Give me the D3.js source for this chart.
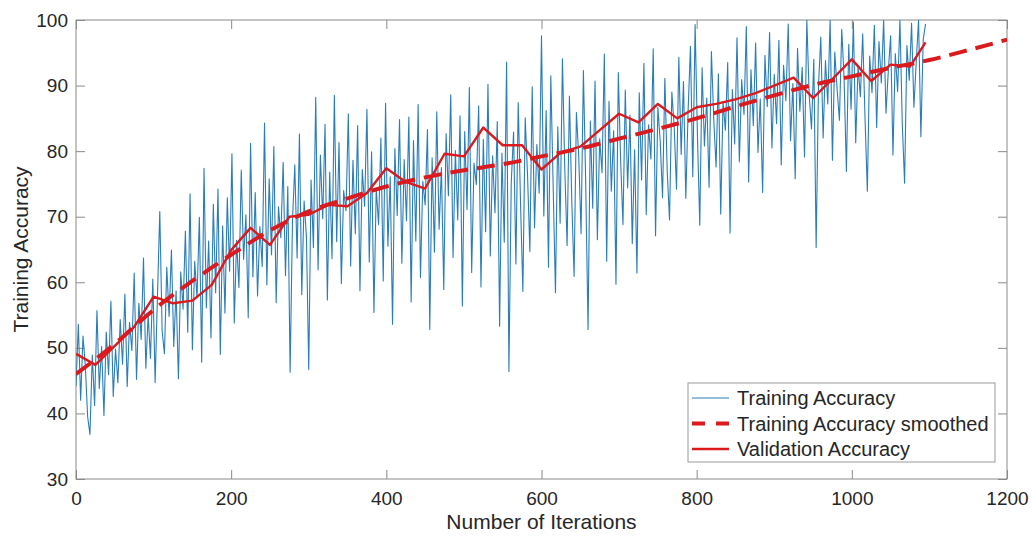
<!DOCTYPE html>
<html>
<head>
<meta charset="utf-8">
<script src="https://cdn.jsdelivr.net/npm/d3@7"></script>
<style>
  body { margin: 0; background: #fff; }
  svg { display: block; font-family: "Liberation Sans", Arial, sans-serif; }
  .tick text { fill: #262626; font-size: 19px; }
  .tick line { stroke: #8a8a8a; }
</style>
</head>
<body>
<div id="chart"></div>
<script>
// Training accuracy, one reading every 3 iterations (0 .. 1095)
const trainStep = 3;
const trainAcc = [
    44.1, 53.6, 42.0, 51.8, 47.3, 39.5, 36.8, 48.9, 41.2, 55.7, 43.8, 50.2, 39.7, 52.4, 45.9, 57.1, 42.6, 49.8, 44.7, 54.3,
    47.5, 58.2, 44.1, 53.9, 49.6, 61.4, 45.2, 56.8, 51.3, 63.7, 46.9, 55.0, 48.4, 60.5, 44.7, 57.9, 70.8, 52.6, 49.1, 62.3,
    54.8, 64.9, 50.2, 58.7, 45.3, 61.6, 55.9, 67.8, 52.4, 73.5, 49.7, 63.2, 57.6, 69.9, 47.8, 77.4, 56.1, 66.3, 51.5, 71.9,
    58.4, 74.2, 49.0, 68.6, 55.3, 72.9, 61.7, 79.6, 53.8, 66.4, 59.2, 77.1, 63.5, 70.3, 54.6, 81.2, 60.8, 73.7, 57.9, 68.5,
    62.4, 84.3, 59.6, 75.8, 64.2, 80.7, 56.9, 71.5, 66.8, 78.3, 61.0, 74.6, 46.3, 69.2, 77.9, 63.7, 82.6, 58.1, 72.4, 67.0,
    46.7, 75.6, 65.3, 88.2, 61.9, 79.4, 69.7, 84.1, 57.3, 76.8, 63.6, 88.5, 66.2, 81.3, 59.8, 74.0, 70.9, 85.7, 62.5, 78.6,
    67.4, 83.9, 58.7, 77.2, 71.6, 86.4, 63.1, 79.9, 55.4, 74.3, 68.8, 82.0, 60.2, 87.3, 65.5, 76.1, 53.6, 80.4, 70.2, 84.8,
    62.9, 78.7, 69.4, 85.2, 57.0, 81.6, 66.3, 87.1, 60.7, 75.4, 71.8, 83.3, 52.8, 79.0, 64.6, 86.0, 68.1, 77.5, 58.9, 82.7,
    73.2, 88.6, 63.8, 80.1, 69.5, 85.4, 56.4, 83.0, 71.1, 89.7, 61.5, 78.2, 74.9, 86.9, 59.3, 81.8, 67.7, 90.2, 64.0, 79.3,
    70.6, 84.5, 53.3, 79.7, 66.1, 93.6, 46.4, 75.2, 82.9, 62.8, 87.4, 71.9, 58.6, 85.1, 76.4, 64.7, 89.8, 68.3, 81.0, 73.6,
    97.6, 70.1, 86.2, 62.3, 91.5, 74.8, 58.4, 83.7, 69.0, 94.1, 77.3, 65.6, 88.4, 72.5, 60.9, 85.9, 79.2, 67.4, 92.3, 75.0,
    52.8, 84.6, 71.3, 90.7, 66.5, 81.9, 76.7, 94.8, 63.2, 87.6, 73.9, 83.1, 59.7, 92.0, 78.5, 68.8, 89.3, 74.4, 85.5, 65.9,
    80.2, 61.4, 88.9, 75.6, 93.4, 70.3, 84.0, 78.8, 95.6, 67.1, 86.7, 81.5, 72.9, 91.1, 77.0, 69.5, 89.0, 83.8, 74.2, 94.3,
    79.5, 90.6, 72.8, 86.3, 96.0, 76.1, 99.3, 82.4, 68.7, 92.7, 80.8, 88.1, 74.5, 95.2, 84.9, 77.6, 91.8, 70.4, 87.5, 83.2,
    93.5, 67.5, 89.4, 81.1, 97.3, 78.4, 90.9, 85.6, 99.0, 75.3, 92.4, 83.9, 96.5, 79.8, 88.0, 73.7, 94.6, 86.8, 98.1, 80.5,
    91.7, 84.2, 96.9, 77.9, 93.1, 87.7, 99.4, 81.6, 90.3, 75.8, 95.7, 86.1, 92.8, 79.1, 100, 88.6, 83.4, 94.0, 65.3, 89.9,
    97.4, 82.0, 93.8, 87.2, 100, 78.6, 95.1, 89.5, 84.7, 98.6, 91.2, 76.9, 96.3, 86.4, 99.7, 81.3, 93.0, 88.3, 97.9, 85.0,
    73.9, 94.5, 88.9, 99.2, 83.6, 96.7, 90.4, 100, 85.8, 92.2, 97.6, 79.4, 94.9, 89.1, 100, 84.3, 75.1, 96.1, 90.8, 99.5,
    86.7, 93.6, 100, 82.2, 97.0, 99.4
];

// Smoothed training accuracy
const smoothIter = [0, 50, 100, 150, 200, 250, 300, 350, 400, 450, 500, 550, 600,
    650, 700, 750, 800, 850, 900, 950, 1000, 1050, 1100, 1150, 1200];
const smoothAcc = [46.0, 50.6, 55.8, 60.2, 64.2, 67.9, 70.8, 72.8, 74.6, 76.0, 77.1, 78.0, 79.2,
    80.4, 81.9, 83.4, 85.0, 86.8, 88.5, 90.1, 91.4, 92.7, 93.9, 95.4, 97.0];

// Validation accuracy
const valIter = [0, 25, 50, 75, 100, 125, 150, 175, 200, 225, 250, 275, 300, 325, 350, 375,
    400, 425, 450, 475, 500, 525, 550, 575, 600, 625, 650, 675, 700, 725, 750, 775,
    800, 825, 850, 875, 900, 925, 950, 975, 1000, 1025, 1050, 1075, 1095];
const valAcc = [49.1, 47.4, 50.3, 53.2, 57.8, 56.8, 57.2, 59.6, 64.9, 68.3, 65.7, 70.0, 70.3, 71.8, 71.6, 73.6,
    77.4, 75.3, 74.3, 79.6, 79.2, 83.6, 80.9, 80.9, 77.2, 79.8, 80.7, 83.2, 85.7, 84.4, 87.2, 85.0,
    86.7, 87.2, 87.9, 88.8, 90.0, 91.2, 88.1, 91.0, 94.0, 90.7, 93.2, 92.9, 96.6];

const xTicks = [0, 200, 400, 600, 800, 1000, 1200];
const yTicks = [30, 40, 50, 60, 70, 80, 90, 100];

const legendLabels = ['Training Accuracy', 'Training Accuracy smoothed', 'Validation Accuracy'];

const W = 1032, H = 536;
const margin = { left: 76, right: 25, top: 20, bottom: 57 };
const width = W - margin.left - margin.right;
const height = H - margin.top - margin.bottom;

const blue = '#2a7db8';
const red = '#da1a1d';

const svg = d3.select('#chart').append('svg')
    .attr('width', W)
    .attr('height', H);

const g = svg.append('g')
    .attr('transform', `translate(${margin.left},${margin.top})`);

const x = d3.scaleLinear().domain([0, 1200]).range([0, width]);
const y = d3.scaleLinear().domain([30, 100]).range([height, 0]);

g.append('clipPath').attr('id', 'plot-clip')
    .append('rect').attr('width', width).attr('height', height);

// Axes with inward ticks, mirrored on top and right
const tickLen = 9;
const fmt = d3.format('d');
const styleAxis = sel => { sel.select('.domain').remove(); };

g.append('g')
    .attr('transform', `translate(0,${height})`)
    .call(d3.axisBottom(x).tickValues(xTicks).tickFormat(fmt).tickSizeInner(-tickLen).tickSizeOuter(0).tickPadding(13))
    .call(styleAxis);

g.append('g')
    .call(d3.axisLeft(y).tickValues(yTicks).tickFormat(fmt).tickSizeInner(-tickLen).tickSizeOuter(0).tickPadding(8))
    .call(styleAxis);

g.append('g')
    .call(d3.axisTop(x).tickValues(xTicks).tickSizeInner(-tickLen).tickSizeOuter(0).tickFormat(''))
    .call(styleAxis);

g.append('g')
    .attr('transform', `translate(${width},0)`)
    .call(d3.axisRight(y).tickValues(yTicks).tickSizeInner(-tickLen).tickSizeOuter(0).tickFormat(''))
    .call(styleAxis);

g.append('rect')
    .attr('width', width)
    .attr('height', height)
    .attr('fill', 'none')
    .attr('stroke', '#8a8a8a')
    .attr('stroke-width', 1);

// Lines
const plot = g.append('g').attr('clip-path', 'url(#plot-clip)');

const trainLine = d3.line()
    .x((d, i) => x(i * trainStep))
    .y(d => y(d));

plot.append('path')
    .datum(trainAcc)
    .attr('d', trainLine)
    .attr('fill', 'none')
    .attr('stroke', blue)
    .attr('stroke-width', 1.1)
    .attr('stroke-linejoin', 'round');

const pairLine = d3.line()
    .x(d => x(d[0]))
    .y(d => y(d[1]));

plot.append('path')
    .datum(d3.zip(smoothIter, smoothAcc))
    .attr('d', pairLine.curve(d3.curveMonotoneX))
    .attr('fill', 'none')
    .attr('stroke', red)
    .attr('stroke-width', 4)
    .attr('stroke-dasharray', '18,9');

plot.append('path')
    .datum(d3.zip(valIter, valAcc))
    .attr('d', pairLine.curve(d3.curveLinear))
    .attr('fill', 'none')
    .attr('stroke', red)
    .attr('stroke-width', 2.4)
    .attr('stroke-linejoin', 'round');

// Axis labels
svg.append('text')
    .attr('x', margin.left + width / 2)
    .attr('y', 529)
    .attr('text-anchor', 'middle')
    .attr('fill', '#262626')
    .style('font-size', '21px')
    .text('Number of Iterations');

svg.append('text')
    .attr('transform', `translate(28,${margin.top + height / 2}) rotate(-90)`)
    .attr('text-anchor', 'middle')
    .attr('fill', '#262626')
    .style('font-size', '21px')
    .text('Training Accuracy');

// Legend
const legend = svg.append('g').attr('transform', 'translate(688,383)');

legend.append('rect')
    .attr('width', 307)
    .attr('height', 79)
    .attr('fill', '#fff')
    .attr('stroke', '#9a9a9a')
    .attr('stroke-width', 1);

const legendStyles = [
    { stroke: blue, width: 1.1, dash: null },
    { stroke: red, width: 4, dash: '13,11' },
    { stroke: red, width: 2.4, dash: null }
];

const items = legend.selectAll('.legend-item')
    .data(legendLabels)
    .enter()
    .append('g')
    .attr('class', 'legend-item')
    .attr('transform', (d, i) => `translate(0,${15 + i * 25.5})`);

items.append('line')
    .attr('x1', 4)
    .attr('x2', 41)
    .attr('stroke', (d, i) => legendStyles[i].stroke)
    .attr('stroke-width', (d, i) => legendStyles[i].width)
    .attr('stroke-dasharray', (d, i) => legendStyles[i].dash);

items.append('text')
    .attr('x', 49)
    .attr('y', 0)
    .attr('dy', '0.35em')
    .attr('fill', '#262626')
    .style('font-size', '20px')
    .text(d => d);
</script>
</body>
</html>
